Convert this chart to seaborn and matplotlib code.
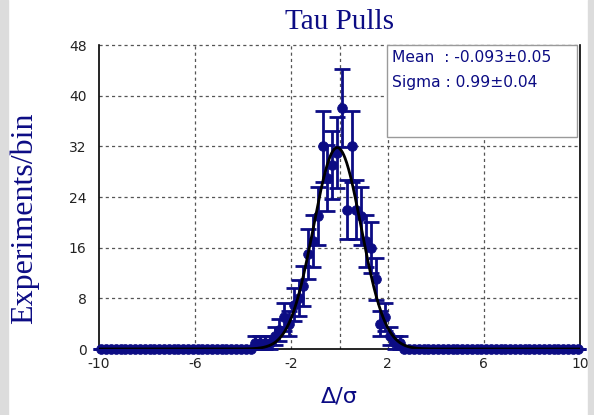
import numpy as np
import pandas as pd
import matplotlib
matplotlib.use("Agg")
import matplotlib.pyplot as plt
import seaborn as sns
from matplotlib.patches import Rectangle

# ---- data -------------------------------------------------------------
bin_centers = np.round(np.arange(-9.9, 10.0, 0.2), 1)
nonzero_centers = [-3.5, -3.3, -3.1, -2.9, -2.7, -2.5, -2.3, -2.1, -1.9, -1.7,
                   -1.5, -1.3, -1.1, -0.9, -0.7, -0.5, -0.3, -0.1, 0.1, 0.3,
                   0.5, 0.7, 0.9, 1.1, 1.3, 1.5, 1.7, 1.9, 2.1, 2.3, 2.5]
nonzero_counts = [1, 1, 1, 1, 2, 3, 5, 4, 7, 8,
                  10, 15, 17, 21, 32, 27, 29, 31, 38, 22,
                  32, 22, 21, 17, 16, 11, 4, 5, 2, 1, 1]
fit_mean = -0.093
fit_sigma = 0.99
fit_amp = 31.8
title_text = "Tau Pulls"
xlabel_text = "\u0394/\u03c3"
ylabel_text = "Experiments/bin"
stats_lines = ["Mean  : -0.093\u00b10.05", "Sigma : 0.99\u00b10.04"]
xticks = [-10, -6, -2, 2, 6, 10]
yticks = [0, 8, 16, 24, 32, 40, 48]
xgrid = [-6, -2, 0, 2, 6]

counts = np.zeros(len(bin_centers))
for c, n in zip(nonzero_centers, nonzero_counts):
    counts[np.argmin(np.abs(bin_centers - c))] = n
errors = np.sqrt(counts)
df = pd.DataFrame({"x": bin_centers, "y": counts, "err": errors})

xf = np.linspace(-10, 10, 801)
fit_df = pd.DataFrame({"x": xf,
                       "y": fit_amp * np.exp(-(xf - fit_mean) ** 2 / (2 * fit_sigma ** 2))})

# ---- plot -------------------------------------------------------------
sns.set_theme(style="white")
plt.rcParams["font.family"] = ["DejaVu Sans"]

navy = "#0c0c84"
fig = plt.figure(figsize=(5.94, 4.15), dpi=100)
fig.patch.set_facecolor("white")
fig.patches.append(Rectangle((0, 0), 8 / 594, 1, transform=fig.transFigure,
                             color="#dcdcdc", zorder=0))
fig.patches.append(Rectangle((588 / 594, 0), 6 / 594, 1, transform=fig.transFigure,
                             color="#dcdcdc", zorder=0))
ax = fig.add_axes([99 / 594, 1 - 349 / 415, 481 / 594, 304 / 415])

for g in yticks[1:]:
    ax.axhline(g, color="#555555", lw=0.9, ls=(0, (2.5, 2.5)), zorder=1, clip_on=False)
for g in xgrid:
    ax.axvline(g, color="#555555", lw=0.9, ls=(0, (2.5, 2.5)), zorder=1)

ax.errorbar(df["x"], df["y"], yerr=df["err"], fmt="none", ecolor=navy,
            elinewidth=2.0, capsize=5.5, capthick=2.0, zorder=3, clip_on=False)
sns.scatterplot(data=df, x="x", y="y", ax=ax, color=navy, s=50,
                edgecolor=navy, linewidth=0.5, zorder=4, clip_on=False, legend=False)
sns.lineplot(data=fit_df, x="x", y="y", ax=ax, color="black", lw=2.0, zorder=5)

ax.set_xlim(-10, 10)
ax.set_ylim(0, 48)
ax.set_xticks(xticks)
ax.set_yticks(yticks)
ax.set_xticklabels([str(t) for t in xticks])
ax.set_yticklabels([str(t) for t in yticks])
ax.tick_params(axis="both", length=0, labelsize=10, colors="#222222")
ax.tick_params(axis="x", pad=6)
ax.tick_params(axis="y", pad=9)
for s in ["left", "bottom", "right"]:
    ax.spines[s].set_color("black")
    ax.spines[s].set_linewidth(1.2)
ax.spines["top"].set_visible(False)
ax.set_xlabel("")
ax.set_ylabel("")

fig.text(339.5 / 594, 1 - 22 / 415, title_text, ha="center", va="center",
         fontsize=21, color=navy, family="Liberation Serif")
fig.text(24 / 594, 1 - 218 / 415, ylabel_text, ha="center", va="center",
         rotation=90, fontsize=23, color=navy, family="Liberation Serif")
fig.text(339.5 / 594, 1 - 396 / 415, xlabel_text, ha="center", va="center",
         fontsize=16, color=navy, family="DejaVu Sans")

# stats box
box = Rectangle((387 / 594, 1 - 137 / 415), (577 - 387) / 594, (137 - 45) / 415,
                transform=fig.transFigure, facecolor="white", edgecolor="#9a9a9a",
                lw=1.0, zorder=10)
fig.patches.append(box)
fig.text(392 / 594, 1 - 58 / 415, stats_lines[0], ha="left", va="center",
         fontsize=11.2, color=navy, zorder=11)
fig.text(392 / 594, 1 - 83 / 415, stats_lines[1], ha="left", va="center",
         fontsize=11.2, color=navy, zorder=11)

fig.savefig("out.png", dpi=100)
